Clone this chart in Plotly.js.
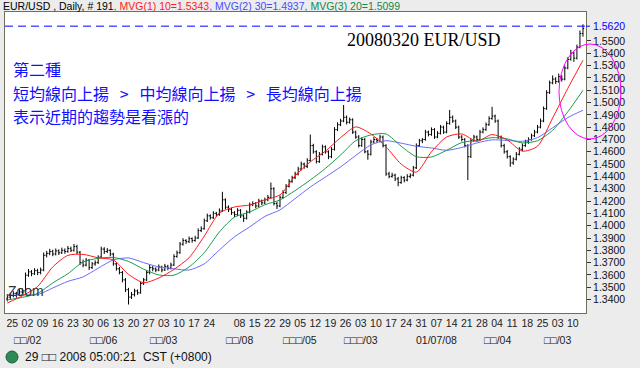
<!DOCTYPE html>
<html><head><meta charset="utf-8">
<script src="https://cdn.plot.ly/plotly-3.0.1.min.js"></script>
<style>html,body{margin:0;padding:0;background:#ececec;}#chart{width:640px;height:368px;}</style>
</head><body><div id="chart"></div>
<script>
// ---------- data ----------
const startDate = "2007-06-25";
const nBars = 191;
const open = [1.3405,1.3420,1.3435,1.3450,1.3440,1.3462,1.3470,1.3598,1.3625,1.3610,1.3635,1.3620,1.3640,1.3760,1.3775,1.3790,1.3770,1.3795,1.3780,1.3800,
1.3790,1.3815,1.3800,1.3830,1.3785,1.3700,1.3680,1.3720,1.3660,1.3690,1.3700,1.3745,1.3810,1.3790,1.3800,1.3770,1.3690,1.3650,1.3620,1.3560,
1.3480,1.3420,1.3440,1.3470,1.3455,1.3530,1.3560,1.3620,1.3660,1.3650,1.3640,1.3665,1.3640,1.3670,1.3655,1.3680,1.3750,1.3780,1.3850,1.3880,
1.3870,1.3895,1.3880,1.3900,1.3960,1.3975,1.4040,1.4080,1.4065,1.4100,1.4090,1.4120,1.4210,1.4150,1.4130,1.4105,1.4090,1.4125,1.4080,1.4060,
1.4110,1.4170,1.4180,1.4160,1.4200,1.4185,1.4210,1.4230,1.4300,1.4180,1.4160,1.4230,1.4270,1.4320,1.4360,1.4390,1.4420,1.4460,1.4500,1.4480,
1.4530,1.4650,1.4600,1.4520,1.4580,1.4640,1.4600,1.4560,1.4620,1.4780,1.4820,1.4850,1.4880,1.4840,1.4860,1.4760,1.4720,1.4650,1.4700,1.4600,
1.4580,1.4680,1.4700,1.4690,1.4720,1.4650,1.4420,1.4400,1.4410,1.4380,1.4350,1.4390,1.4370,1.4400,1.4410,1.4470,1.4650,1.4690,1.4700,1.4760,
1.4740,1.4780,1.4720,1.4750,1.4800,1.4760,1.4830,1.4880,1.4850,1.4800,1.4720,1.4700,1.4650,1.4560,1.4690,1.4720,1.4700,1.4760,1.4780,1.4820,
1.4870,1.4890,1.4850,1.4720,1.4650,1.4600,1.4560,1.4510,1.4540,1.4580,1.4620,1.4650,1.4680,1.4700,1.4730,1.4760,1.4800,1.4850,1.4950,1.5080,
1.5160,1.5190,1.5170,1.5210,1.5190,1.5280,1.5350,1.5400,1.5360,1.5450,1.5560];
const high = [1.3445,1.3455,1.3468,1.3462,1.3485,1.3490,1.3620,1.3648,1.3640,1.3655,1.3650,1.3660,1.3782,1.3795,1.3812,1.3805,1.3815,1.3808,1.3822,1.3815,
1.3835,1.3830,1.3852,1.3845,1.3795,1.3725,1.3738,1.3730,1.3705,1.3718,1.3760,1.3830,1.3825,1.3818,1.3808,1.3780,1.3702,1.3665,1.3632,1.3575,
1.3495,1.3462,1.3488,1.3482,1.3545,1.3575,1.3640,1.3685,1.3672,1.3662,1.3685,1.3675,1.3690,1.3682,1.3700,1.3768,1.3798,1.3868,1.3898,1.3890,
1.3912,1.3905,1.3918,1.3978,1.3995,1.4058,1.4098,1.4092,1.4118,1.4112,1.4140,1.4275,1.4222,1.4165,1.4145,1.4118,1.4142,1.4135,1.4092,1.4125,
1.4188,1.4198,1.4192,1.4218,1.4212,1.4228,1.4250,1.4350,1.4312,1.4195,1.4245,1.4288,1.4338,1.4378,1.4405,1.4438,1.4478,1.4520,1.4512,1.4548,
1.4740,1.4665,1.4612,1.4598,1.4658,1.4652,1.4612,1.4638,1.4800,1.4840,1.4868,1.4980,1.4895,1.4878,1.4872,1.4772,1.4735,1.4718,1.4712,1.4615,
1.4698,1.4720,1.4712,1.4738,1.4732,1.4662,1.4438,1.4430,1.4422,1.4395,1.4405,1.4402,1.4418,1.4425,1.4485,1.4668,1.4705,1.4712,1.4778,1.4772,
1.4798,1.4792,1.4768,1.4818,1.4812,1.4848,1.4940,1.4895,1.4862,1.4812,1.4735,1.4712,1.4662,1.4708,1.4738,1.4732,1.4778,1.4798,1.4838,1.4888,
1.4965,1.4902,1.4862,1.4732,1.4665,1.4615,1.4572,1.4555,1.4598,1.4638,1.4668,1.4698,1.4718,1.4748,1.4778,1.4818,1.4870,1.4968,1.5100,1.5178,
1.5220,1.5205,1.5235,1.5222,1.5300,1.5368,1.5428,1.5412,1.5470,1.5585,1.5635];
const low = [1.3385,1.3400,1.3418,1.3415,1.3430,1.3445,1.3465,1.3585,1.3590,1.3600,1.3598,1.3605,1.3630,1.3742,1.3760,1.3752,1.3758,1.3762,1.3770,1.3772,
1.3780,1.3785,1.3790,1.3770,1.3680,1.3662,1.3670,1.3640,1.3648,1.3675,1.3690,1.3738,1.3770,1.3778,1.3752,1.3675,1.3635,1.3605,1.3540,1.3460,
1.3360,1.3405,1.3425,1.3438,1.3448,1.3518,1.3550,1.3605,1.3630,1.3622,1.3630,1.3622,1.3632,1.3638,1.3645,1.3672,1.3740,1.3772,1.3838,1.3852,
1.3860,1.3862,1.3870,1.3892,1.3948,1.3968,1.4030,1.4050,1.4055,1.4072,1.4080,1.4112,1.4135,1.4110,1.4088,1.4070,1.4078,1.4062,1.4030,1.4050,
1.4100,1.4158,1.4142,1.4150,1.4168,1.4175,1.4198,1.4220,1.4165,1.4135,1.4150,1.4220,1.4258,1.4310,1.4348,1.4378,1.4408,1.4448,1.4462,1.4468,
1.4520,1.4585,1.4505,1.4510,1.4570,1.4585,1.4540,1.4548,1.4610,1.4768,1.4808,1.4840,1.4822,1.4828,1.4745,1.4705,1.4635,1.4640,1.4588,1.4535,
1.4570,1.4668,1.4672,1.4680,1.4635,1.4405,1.4385,1.4390,1.4362,1.4320,1.4340,1.4352,1.4360,1.4385,1.4400,1.4460,1.4640,1.4670,1.4690,1.4725,
1.4730,1.4705,1.4710,1.4740,1.4745,1.4750,1.4820,1.4835,1.4785,1.4705,1.4685,1.4635,1.4370,1.4550,1.4680,1.4685,1.4690,1.4750,1.4770,1.4810,
1.4860,1.4835,1.4705,1.4635,1.4585,1.4545,1.4478,1.4495,1.4530,1.4570,1.4605,1.4640,1.4665,1.4690,1.4720,1.4750,1.4790,1.4840,1.4940,1.5070,
1.5148,1.5150,1.5160,1.5170,1.5180,1.5270,1.5340,1.5330,1.5350,1.5440,1.5535];
const close = [1.3420,1.3435,1.3450,1.3440,1.3462,1.3470,1.3598,1.3625,1.3610,1.3635,1.3620,1.3640,1.3760,1.3775,1.3790,1.3770,1.3795,1.3780,1.3800,1.3790,
1.3815,1.3800,1.3830,1.3785,1.3700,1.3680,1.3720,1.3660,1.3690,1.3700,1.3745,1.3810,1.3790,1.3800,1.3770,1.3690,1.3650,1.3620,1.3560,1.3480,
1.3420,1.3440,1.3470,1.3455,1.3530,1.3560,1.3620,1.3660,1.3650,1.3640,1.3665,1.3640,1.3670,1.3655,1.3680,1.3750,1.3780,1.3850,1.3880,1.3870,
1.3895,1.3880,1.3900,1.3960,1.3975,1.4040,1.4080,1.4065,1.4100,1.4090,1.4120,1.4210,1.4150,1.4130,1.4105,1.4090,1.4125,1.4080,1.4060,1.4110,
1.4170,1.4180,1.4160,1.4200,1.4185,1.4210,1.4230,1.4300,1.4180,1.4160,1.4230,1.4270,1.4320,1.4360,1.4390,1.4420,1.4460,1.4500,1.4480,1.4530,
1.4650,1.4600,1.4520,1.4580,1.4640,1.4600,1.4560,1.4620,1.4780,1.4820,1.4850,1.4880,1.4840,1.4860,1.4760,1.4720,1.4650,1.4700,1.4600,1.4580,
1.4680,1.4700,1.4690,1.4720,1.4650,1.4420,1.4400,1.4410,1.4380,1.4350,1.4390,1.4370,1.4400,1.4410,1.4470,1.4650,1.4690,1.4700,1.4760,1.4740,
1.4780,1.4720,1.4750,1.4800,1.4760,1.4830,1.4880,1.4850,1.4800,1.4720,1.4700,1.4650,1.4560,1.4690,1.4720,1.4700,1.4760,1.4780,1.4820,1.4870,
1.4890,1.4850,1.4720,1.4650,1.4600,1.4560,1.4510,1.4540,1.4580,1.4620,1.4650,1.4680,1.4700,1.4730,1.4760,1.4800,1.4850,1.4950,1.5080,1.5160,
1.5190,1.5170,1.5210,1.5190,1.5280,1.5350,1.5400,1.5360,1.5450,1.5560,1.5600];

// moving-average lines, read every 5 bars (bar number -> value)
const maBar = [0,5,10,15,20,25,30,35,40,45,50,55,60,65,70,75,80,85,90,95,100,105,110,115,120,125,130,135,140,145,150,155,160,165,170,175,180,185,190];
const ma10 = [1.3372,1.3431,1.3506,1.3665,1.3759,1.3767,1.3739,1.3722,1.3605,1.3537,1.3575,1.3645,1.3740,1.3915,1.4103,1.4152,1.4168,1.4210,1.4250,1.4405,
1.4518,1.4605,1.4715,1.4802,1.4745,1.4640,1.4500,1.4435,1.4600,1.4720,1.4745,1.4685,1.4740,1.4696,1.4605,1.4645,1.4875,1.5115,1.5343];
const ma20 = [1.3397,1.3418,1.3450,1.3535,1.3610,1.3705,1.3735,1.3742,1.3710,1.3647,1.3600,1.3598,1.3665,1.3780,1.3949,1.4070,1.4111,1.4170,1.4209,1.4285,
1.4371,1.4465,1.4574,1.4690,1.4737,1.4745,1.4645,1.4560,1.4558,1.4612,1.4675,1.4692,1.4715,1.4705,1.4672,1.4690,1.4775,1.4925,1.5099];
const ma30 = [1.3437,1.3437,1.3440,1.3494,1.3548,1.3584,1.3655,1.3722,1.3738,1.3700,1.3665,1.3650,1.3640,1.3690,1.3803,1.3910,1.3990,1.4075,1.4128,1.4220,
1.4314,1.4395,1.4477,1.4570,1.4656,1.4690,1.4670,1.4645,1.4631,1.4612,1.4635,1.4672,1.4697,1.4692,1.4685,1.4715,1.4795,1.4878,1.4937];

const lastPrice = 1.5620;
const skippedMonday = "2007-10-01";
const lastTickDate = "2008-03-10";
const monthTickDates = ["2007-07-02","2007-08-06","2007-09-03","2007-10-08","2007-11-05","2007-12-03","2008-01-07","2008-02-04","2008-03-03"];
const monthTickText = ["□□/02","□□/06","□□/03","□□/08","□□□/05","□□□/03","01/07/08","□□/04","□□/03"];
const headerParts = ["EUR/USD , Daily, # 191", ", MVG(1) 10=1.5343", ", MVG(2) 30=1.4937", ", MVG(3) 20=1.5099"];
const noteLines = ["第二種", "短均線向上揚\u00a0\u00a0\u00a0>\u00a0\u00a0\u00a0中均線向上揚\u00a0\u00a0\u00a0>\u00a0\u00a0\u00a0長均線向上揚", "表示近期的趨勢是看漲的"];
const bigTitle = "20080320 EUR/USD";
const statusText = "29 □□ 2008 05:00:21  CST (+0800)";

// ---------- build trading dates (weekdays) ----------
const dates = [];
{
  let d = new Date(startDate + "T12:00:00Z");
  while (dates.length < nBars) {
    const wd = d.getUTCDay();
    if (wd !== 0 && wd !== 6) dates.push(d.toISOString().slice(0, 10));
    d = new Date(d.getTime() + 86400000);
  }
}
const tickDates = dates.filter(s => new Date(s + "T12:00:00Z").getUTCDay() === 1 && s !== skippedMonday && s <= lastTickDate);
const tickText = tickDates.map(s => s.slice(8));
const yTicks = [];
for (let v = 134; v <= 155; v++) yTicks.push(v / 100);

// ---------- geometry helpers (pixels -> paper) ----------
const W = 640, H = 368, ML = 5, MR = 54, MT = 12, MB = 55;
const PW = W - ML - MR, PH = H - MT - MB;
const px = x => (x - ML) / PW;
const py = y => (H - MB - y) / PH;

const FONT = "Liberation Sans, Arial, sans-serif";
const CJK = "Noto Sans CJK TC, Noto Sans CJK SC, sans-serif";

const traces = [
  {type: "ohlc", x: dates, open: open, high: high, low: low, close: close,
   increasing: {line: {color: "#000000", width: 1}}, decreasing: {line: {color: "#000000", width: 1}},
   tickwidth: 0.4, hoverinfo: "skip", showlegend: false},
  {type: "scatter", mode: "lines", x: maBar.map(i => dates[i]), y: ma30,
   line: {color: "#6a6aff", width: 1, shape: "spline", smoothing: 0.7}, hoverinfo: "skip", showlegend: false},
  {type: "scatter", mode: "lines", x: maBar.map(i => dates[i]), y: ma20,
   line: {color: "#1a9a4a", width: 1, shape: "spline", smoothing: 0.7}, hoverinfo: "skip", showlegend: false},
  {type: "scatter", mode: "lines", x: maBar.map(i => dates[i]), y: ma10,
   line: {color: "#ff1a1a", width: 1, shape: "spline", smoothing: 0.7}, hoverinfo: "skip", showlegend: false}
];

const annotations = [];
const hdrColors = ["#000000", "#ff2020", "#4a4aff", "#108a50"];
annotations.push({xref: "paper", yref: "paper", x: px(1), y: py(6), xanchor: "left", yanchor: "middle", showarrow: false,
  text: headerParts.map((t, i) => `<span style="color:${hdrColors[i]}">${t}</span>`).join(""),
  font: {family: FONT, size: 10.5, color: "#000"}});
annotations.push({xref: "paper", yref: "paper", x: px(345), y: py(40), xanchor: "left", yanchor: "middle", showarrow: false,
  text: bigTitle, font: {family: "Liberation Serif, Times New Roman, serif", size: 18, color: "#000"}});
const noteY = [69, 92.5, 116];
noteLines.forEach((t, i) => annotations.push({xref: "paper", yref: "paper", x: px(12), y: py(noteY[i]), xanchor: "left", yanchor: "middle",
  showarrow: false, borderpad: 0, text: t, font: {family: CJK, size: 16, color: "#1010ff"}}));
annotations.push({xref: "paper", yref: "paper", x: px(6), y: py(291), xanchor: "left", yanchor: "middle", showarrow: false,
  text: "Zoom", font: {family: FONT, size: 14, color: "#333333"}});
monthTickDates.forEach((d, i) => annotations.push({xref: "x", yref: "paper", x: dates.indexOf(d), y: py(340), xanchor: "center", yanchor: "middle",
  xshift: 5, showarrow: false, text: monthTickText[i], font: {family: FONT, size: 10.5, color: "#222"}}));
annotations.push({xref: "paper", yref: "paper", x: px(23), y: py(357), xanchor: "left", yanchor: "middle", showarrow: false,
  text: statusText, font: {family: FONT, size: 12, color: "#111"}});
annotations.push({xref: "paper", yref: "y", x: 1, y: lastPrice, xanchor: "left", yanchor: "middle", xshift: 5, showarrow: false,
  text: lastPrice.toFixed(4), font: {family: FONT, size: 10.5, color: "#0000ff"}});

const shapes = [
  {type: "line", xref: "paper", yref: "y", x0: 0, x1: 1, y0: lastPrice, y1: lastPrice, line: {color: "#0000ff", width: 1, dash: "8px,5px"}},
  {type: "line", xref: "paper", yref: "y", x0: 1, x1: px(590), y0: lastPrice, y1: lastPrice, line: {color: "#0000ff", width: 1}},
  {type: "circle", xref: "paper", yref: "paper", x0: px(559), x1: px(621), y0: py(139), y1: py(44), line: {color: "#ff00ff", width: 1}},
  {type: "circle", xref: "paper", yref: "paper", x0: px(6), x1: px(18), y0: py(363), y1: py(351), fillcolor: "#2e8b57", line: {color: "#1e5e3a", width: 1}}
];

const layout = {
  width: W, height: H, margin: {l: ML, r: MR, t: MT, b: MB, pad: 0},
  paper_bgcolor: "#ececec", plot_bgcolor: "#ffffff", showlegend: false,
  xaxis: {type: "category", range: [-0.76, 191.0], rangeslider: {visible: false}, fixedrange: true,
    tickmode: "array", tickvals: tickDates, ticktext: tickText, ticks: "", ticklabelshift: 5,
    showgrid: false, zeroline: false, showline: true, mirror: true, linecolor: "#6e6e5a", linewidth: 1,
    tickfont: {family: FONT, size: 10.5, color: "#222"}, tickangle: 0},
  yaxis: {side: "right", range: [1.3291, 1.5735], fixedrange: true, tickmode: "array", tickvals: yTicks,
    ticktext: yTicks.map(v => v.toFixed(4)), ticks: "outside", ticklen: 4, tickcolor: "#333", tickwidth: 1,
    showgrid: false, zeroline: false, showline: true, mirror: true, linecolor: "#6e6e5a", linewidth: 1,
    tickfont: {family: FONT, size: 10.5, color: "#111"}},
  annotations: annotations, shapes: shapes
};

Plotly.newPlot("chart", traces, layout, {staticPlot: true, displayModeBar: false});
</script></body></html>
